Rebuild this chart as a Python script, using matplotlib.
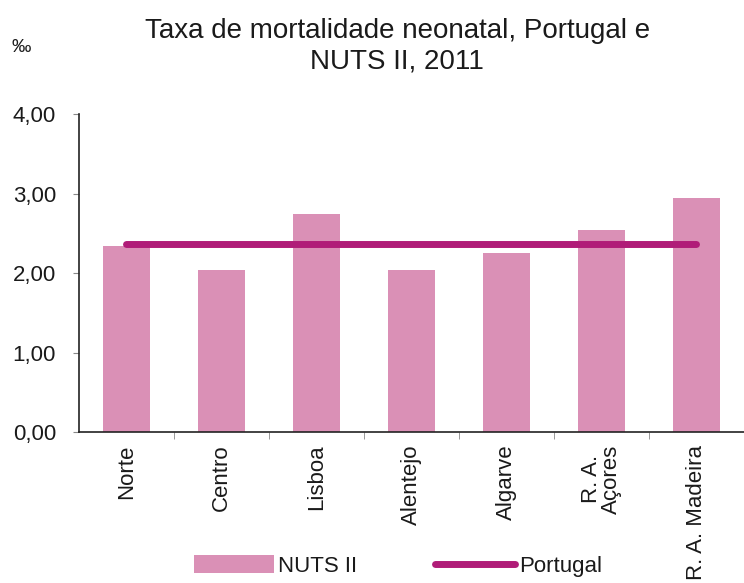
import matplotlib
matplotlib.use("Agg")
import matplotlib.pyplot as plt
import numpy as np

plt.rcParams['font.family'] = ['Liberation Sans', 'DejaVu Sans']

categories = ["Norte", "Centro", "Lisboa", "Alentejo", "Algarve", "R. A.\nAçores", "R. A. Madeira"]
nuts_values = [2.34, 2.04, 2.74, 2.04, 2.25, 2.54, 2.94]
portugal_value = 2.37
yticks = [0.0, 1.0, 2.0, 3.0, 4.0]
ytick_labels = ["0,00", "1,00", "2,00", "3,00", "4,00"]

bar_color = "#DA90B6"
line_color = "#B01C78"
text_color = "#1a1a1a"

fig = plt.figure(figsize=(7.44, 5.83), dpi=100)
ax = fig.add_axes([0.106, 0.259, 0.894, 0.545])

x = np.arange(len(categories))
bars = ax.bar(x, nuts_values, width=0.5, color=bar_color, label="NUTS II", zorder=2)
line, = ax.plot([x[0], x[-1]], [portugal_value, portugal_value], color=line_color,
                linewidth=5, solid_capstyle='round', label="Portugal", zorder=3)

ax.set_xlim(-0.5, len(categories) - 0.5)
ax.set_ylim(0, 4)
ax.set_yticks(yticks)
ax.set_yticklabels(ytick_labels, fontsize=16, color=text_color)
ax.set_xticks(x)
ax.set_xticklabels(categories, rotation=90, fontsize=16, color=text_color,
                   va='top', ha='center', multialignment='center', linespacing=0.95)
ax.set_xticks(np.arange(0.5, len(categories) - 1, 1.0), minor=True)
ax.tick_params(axis='x', which='major', length=0, pad=9)
ax.tick_params(axis='x', which='minor', length=5, color="#888888")
ax.tick_params(axis='y', length=4.5, color="#888888", pad=12)

for s in ["top", "right"]:
    ax.spines[s].set_visible(False)
ax.spines["left"].set_color("#222222")
ax.spines["bottom"].set_color("#222222")
ax.spines["left"].set_linewidth(1.2)
ax.spines["bottom"].set_linewidth(1.2)

fig.text(0.534, 0.969, "Taxa de mortalidade neonatal, Portugal e\nNUTS II, 2011",
         ha='center', va='top', fontsize=20, color=text_color, linespacing=1.2)
fig.text(0.016, 0.919, "‰", fontsize=14, color=text_color, ha='left', va='center')

fig.legend(handles=[bars, line], labels=["NUTS II", "Portugal"], loc='center',
           bbox_to_anchor=(0.535, 0.029), ncol=2, frameon=False, fontsize=16,
           handlelength=3.6, handleheight=0.85, handletextpad=0.2, columnspacing=3.5,
           labelcolor=text_color)

fig.savefig("out.png", dpi=100)
